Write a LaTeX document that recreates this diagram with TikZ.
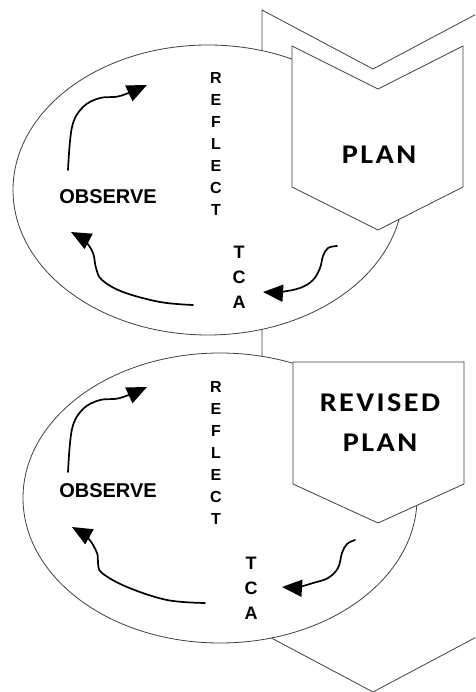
\documentclass[tikz,border=0pt]{standalone}
\usepackage{fontspec}
\setmainfont{Liberation Sans}
\newfontfamily\planfont{Carlito}[BoldFont={Carlito Bold}, LetterSpace=9, FakeStretch=1.12]
\usetikzlibrary{arrows.meta}
\tikzset{
	contour/.style={draw=black!75, line width=0.8pt, fill=white},
	flow/.style={-{Triangle[length=20pt,width=17pt]}, line width=1.7pt, line cap=round},
	stage/.style={inner sep=0pt, font=\bfseries\fontsize{20}{24}\selectfont},
	vletters/.style={align=center, inner sep=0pt, font=\bfseries\fontsize{16}{22}\selectfont},
	vbold/.style={align=center, inner sep=0pt, font=\bfseries\fontsize{18}{25}\selectfont},
	plantext/.style={align=center, inner sep=0pt, font=\planfont\bfseries\fontsize{27}{40}\selectfont}
}
\begin{document}
\begin{tikzpicture}[x=1pt, y=-1pt]
		\useasboundingbox ( 0, 0 ) rectangle ( 475, 692 );
		\clip ( 0, 0 ) rectangle ( 475, 692 );

		% большая стрелка сзади
		\draw [contour] ( 262, 10 ) -- ( 373, 69 ) -- ( 484, 10 ) -- ( 484, 633 ) -- ( 373, 692 ) -- ( 262, 633 ) -- cycle;

		% овалы циклов
		\draw [contour] ( 208, 190 ) ellipse [x radius=195, y radius=145];
		\draw [contour] ( 220, 498 ) ellipse [x radius=197, y radius=145];

		% план
		\draw [contour] ( 292, 46 ) -- ( 378, 89 ) -- ( 463, 46 ) -- ( 463, 187 ) -- ( 378, 230 ) -- ( 292, 187 ) -- cycle;
		\node [plantext] (planA) at ( 379, 155 ) {PLAN};

		% пересмотренный план
		\draw [contour] ( 293, 362 ) -- ( 464, 362 ) -- ( 464, 484 ) -- ( 378, 523 ) -- ( 293, 484 ) -- cycle;
		\node [plantext] (planB) at ( 380, 423 ) {REVISED\\PLAN};

		% цикл 1
		\node [stage] (observeA) at ( 108, 197 ) {OBSERVE};
		\node [vletters] (reflectA) at ( 216, 144 ) {R\\E\\F\\L\\E\\C\\T};
		\node [vbold] (actA) at ( 239, 277 ) {T\\C\\A};
		\coordinate (upA0) at ( 68, 170 );
		\coordinate (upA1) at ( 147, 85 );
		\coordinate (backA0) at ( 193, 305 );
		\coordinate (backA1) at ( 71, 232 );
		\coordinate (inA0) at ( 337, 246 );
		\coordinate (inA1) at ( 263, 292 );
		\draw [flow] plot [smooth, tension=0.6] coordinates { (upA0) ( 72, 127 ) ( 83, 107 ) ( 100, 98 ) ( 120, 96 ) (upA1) };
		\draw [flow] plot [smooth, tension=0.6] coordinates { (backA0) ( 160, 302 ) ( 123, 292 ) ( 102, 280 ) ( 96, 268 ) ( 93, 253 ) ( 85, 241 ) (backA1) };
		\draw [flow] plot [smooth, tension=0.6] coordinates { (inA0) ( 328, 248 ) ( 323, 256 ) ( 320, 268 ) ( 313, 280 ) ( 300, 288 ) ( 280, 292 ) (inA1) };

		% цикл 2
		\node [stage] (observeB) at ( 108, 491 ) {OBSERVE};
		\node [vletters] (reflectB) at ( 216, 453 ) {R\\E\\F\\L\\E\\C\\T};
		\node [vbold] (actB) at ( 251, 588 ) {T\\C\\A};
		\coordinate (upB0) at ( 68, 472 );
		\coordinate (upB1) at ( 147, 387 );
		\coordinate (backB0) at ( 205, 603 );
		\coordinate (backB1) at ( 72, 527 );
		\coordinate (inB0) at ( 355, 540 );
		\coordinate (inB1) at ( 282, 587 );
		\draw [flow] plot [smooth, tension=0.6] coordinates { (upB0) ( 72, 429 ) ( 83, 409 ) ( 100, 400 ) ( 120, 398 ) (upB1) };
		\draw [flow] plot [smooth, tension=0.6] coordinates { (backB0) ( 167, 600 ) ( 127, 587 ) ( 102, 573 ) ( 98, 563 ) ( 97, 553 ) ( 88, 538 ) (backB1) };
		\draw [flow] plot [smooth, tension=0.6] coordinates { (inB0) ( 347, 544 ) ( 342, 553 ) ( 338, 568 ) ( 328, 578 ) ( 313, 583 ) ( 298, 587 ) (inB1) };
\end{tikzpicture}
\end{document}
